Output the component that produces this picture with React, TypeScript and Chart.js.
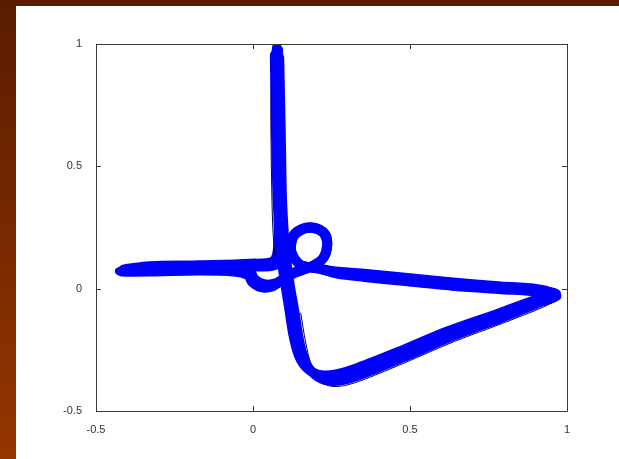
import { useEffect, useRef } from "react";
import { Chart, registerables } from "chart.js";

Chart.register(...registerables);

// Axis ticks
const xTicks = [-0.5, 0, 0.5, 1];
const yTicks = [-0.5, 0, 0.5, 1];

// First lap of the trajectory: stem down, V, right arm back, loop, blob, left arm, stem up
const lapOneX = [0.080, 0.080, 0.083, 0.086, 0.096, 0.108, 0.124, 0.140, 0.159, 0.188, 0.229, 0.277, 0.341, 0.468, 0.627, 0.787, 0.914, 0.965,
  0.914, 0.787, 0.627, 0.468, 0.350, 0.265,
  0.210, 0.150, 0.122, 0.126, 0.155, 0.195, 0.228, 0.236, 0.222, 0.185, 0.134,
  0.102, 0.068, 0.030, 0.002, -0.012, -0.058,
  -0.170, -0.330, -0.424, -0.330, -0.170, -0.010, 0.070,
  0.086, 0.083, 0.080, 0.076];
const lapOneY = [0.975, 0.771, 0.567, 0.363, 0.158, 0.036, -0.087, -0.210, -0.291, -0.340, -0.361, -0.357, -0.332, -0.267, -0.181, -0.108, -0.046, -0.022,
  -0.009, 0.003, 0.019, 0.040, 0.056, 0.066,
  0.082, 0.098, 0.150, 0.208, 0.242, 0.248, 0.224, 0.175, 0.122, 0.090, 0.066,
  0.044, 0.016, 0.012, 0.032, 0.060, 0.076,
  0.078, 0.074, 0.074, 0.084, 0.088, 0.095, 0.108,
  0.199, 0.363, 0.690, 0.984];

// Second lap, running a little higher and further left
const lapTwoX = [0.068, 0.070, 0.073, 0.077, 0.086, 0.098, 0.113, 0.128, 0.146, 0.175, 0.218, 0.268, 0.333, 0.460, 0.620, 0.780, 0.908, 0.955,
  0.906, 0.780, 0.620, 0.460, 0.345, 0.262,
  0.209, 0.149, 0.120, 0.124, 0.154, 0.195, 0.230, 0.238, 0.224, 0.186, 0.136,
  0.106, 0.073, 0.035, 0.006, -0.007, -0.056,
  -0.170, -0.330, -0.412, -0.330, -0.170, -0.010, 0.066,
  0.080, 0.077, 0.073, 0.072];
const lapTwoY = [0.955, 0.760, 0.560, 0.360, 0.160, 0.045, -0.075, -0.195, -0.278, -0.330, -0.352, -0.347, -0.322, -0.258, -0.172, -0.100, -0.040, -0.018,
  0.000, 0.012, 0.029, 0.050, 0.064, 0.072,
  0.084, 0.100, 0.152, 0.211, 0.245, 0.251, 0.226, 0.177, 0.123, 0.091, 0.070,
  0.050, 0.024, 0.020, 0.040, 0.066, 0.084,
  0.090, 0.086, 0.080, 0.094, 0.098, 0.104, 0.116,
  0.205, 0.370, 0.700, 0.965];

// Third lap, running a little lower and further right
const lapThreeX = [0.085, 0.088, 0.091, 0.094, 0.104, 0.117, 0.134, 0.150, 0.170, 0.200, 0.240, 0.288, 0.350, 0.476, 0.634, 0.793, 0.918, 0.968,
  0.920, 0.793, 0.634, 0.476, 0.355, 0.268,
  0.211, 0.152, 0.124, 0.128, 0.156, 0.195, 0.226, 0.234, 0.220, 0.183, 0.132,
  0.098, 0.063, 0.025, -0.004, -0.017, -0.062,
  -0.170, -0.330, -0.418, -0.330, -0.170, -0.010, 0.078,
  0.094, 0.091, 0.088, 0.082];
const lapThreeY = [0.945, 0.770, 0.570, 0.365, 0.155, 0.028, -0.098, -0.222, -0.305, -0.356, -0.378, -0.375, -0.350, -0.284, -0.197, -0.120, -0.056, -0.030,
  -0.016, -0.004, 0.010, 0.030, 0.046, 0.060,
  0.080, 0.096, 0.148, 0.206, 0.239, 0.245, 0.222, 0.173, 0.121, 0.088, 0.062,
  0.038, 0.008, 0.004, 0.026, 0.054, 0.068,
  0.072, 0.068, 0.068, 0.076, 0.080, 0.088, 0.100,
  0.195, 0.360, 0.680, 0.950];

// Thin darker strokes along the outer edges of the band
const edgeLowX = [0.152, 0.168, 0.186, 0.210, 0.244, 0.292, 0.356, 0.483, 0.641, 0.800, 0.925, 0.978];
const edgeLowY = [-0.100, -0.222, -0.314, -0.372, -0.398, -0.396, -0.370, -0.303, -0.216, -0.139, -0.075, -0.040];
const edgeLeftX = [0.060, 0.057, 0.059, 0.063, 0.070];
const edgeLeftY = [0.930, 0.700, 0.460, 0.250, 0.130];

function toPoints(xs: number[], ys: number[]) {
  return xs.map((x, i) => ({ x, y: ys[i] }));
}

const BLUE = "#0000ff";
const DARK = "#000060";

// Boxed axes with inward tick marks on all four sides
const framePlugin = {
  id: "frame",
  afterDraw(chart: any) {
    const { ctx, chartArea } = chart;
    const { left, right, top, bottom } = chartArea;
    const xs = chart.scales.x;
    const ys = chart.scales.y;
    ctx.save();
    ctx.strokeStyle = "#3a3a3a";
    ctx.lineWidth = 1;
    ctx.beginPath();
    ctx.rect(Math.round(left) + 0.5, Math.round(top) + 0.5, Math.round(right - left), Math.round(bottom - top));
    const len = 5;
    xTicks.forEach((v) => {
      const px = Math.round(xs.getPixelForValue(v)) + 0.5;
      ctx.moveTo(px, bottom);
      ctx.lineTo(px, bottom - len);
      ctx.moveTo(px, top);
      ctx.lineTo(px, top + len);
    });
    yTicks.forEach((v) => {
      const py = Math.round(ys.getPixelForValue(v)) + 0.5;
      ctx.moveTo(left, py);
      ctx.lineTo(left + len, py);
      ctx.moveTo(right, py);
      ctx.lineTo(right - len, py);
    });
    ctx.stroke();
    ctx.restore();
  },
};

export default function App() {
  const canvasRef = useRef<HTMLCanvasElement | null>(null);

  useEffect(() => {
    const canvas = canvasRef.current;
    if (!canvas) return;
    const tickFont = { family: "'Liberation Sans', Arial, sans-serif", size: 11 };
    const lineStyle = {
      showLine: true,
      pointRadius: 0,
      fill: false,
      tension: 0.3,
      borderCapStyle: "round" as const,
      borderJoinStyle: "round" as const,
    };
    const chart = new Chart(canvas, {
      type: "scatter",
      data: {
        datasets: [
          { ...lineStyle, data: toPoints(edgeLowX, edgeLowY), borderColor: DARK, borderWidth: 1, order: 0 },
          { ...lineStyle, data: toPoints(edgeLeftX, edgeLeftY), borderColor: DARK, borderWidth: 1, order: 0 },
          { ...lineStyle, data: toPoints(lapOneX, lapOneY), borderColor: BLUE, borderWidth: 10, order: 1 },
          { ...lineStyle, data: toPoints(lapTwoX, lapTwoY), borderColor: BLUE, borderWidth: 9, order: 2 },
          { ...lineStyle, data: toPoints(lapThreeX, lapThreeY), borderColor: BLUE, borderWidth: 9, order: 3 },
        ],
      },
      options: {
        animation: false,
        responsive: false,
        maintainAspectRatio: false,
        layout: { padding: { left: 56, right: 52, top: 44, bottom: 18 } },
        plugins: { legend: { display: false }, tooltip: { enabled: false } },
        scales: {
          x: {
            type: "linear",
            min: -0.5,
            max: 1,
            grid: { display: false },
            border: { display: false },
            afterBuildTicks: (s: any) => {
              s.ticks = xTicks.map((value) => ({ value }));
            },
            afterFit: (s: any) => {
              s.height = 30;
            },
            ticks: {
              font: tickFont,
              color: "#333333",
              padding: 4,
              maxRotation: 0,
              autoSkip: false,
              callback: (v: any) => String(v),
            },
          },
          y: {
            type: "linear",
            min: -0.5,
            max: 1,
            grid: { display: false },
            border: { display: false },
            afterBuildTicks: (s: any) => {
              s.ticks = yTicks.map((value) => ({ value }));
            },
            afterFit: (s: any) => {
              s.width = 40;
            },
            ticks: {
              font: tickFont,
              color: "#333333",
              padding: 6,
              autoSkip: false,
              callback: (v: any) => String(v),
            },
          },
        },
      },
      plugins: [framePlugin],
    });
    return () => chart.destroy();
  }, []);

  return (
    <div
      style={{
        position: "fixed",
        left: 0,
        top: 0,
        width: 619,
        height: 459,
        background: "linear-gradient(to bottom, #5a1c00, #953600)",
        overflow: "hidden",
      }}
    >
      <div style={{ position: "absolute", left: 16, top: 6, width: 603, height: 453, background: "#ffffff" }} />
      <canvas ref={canvasRef} width={619} height={459} style={{ position: "absolute", left: 0, top: 0, width: 619, height: 459 }} />
    </div>
  );
}
